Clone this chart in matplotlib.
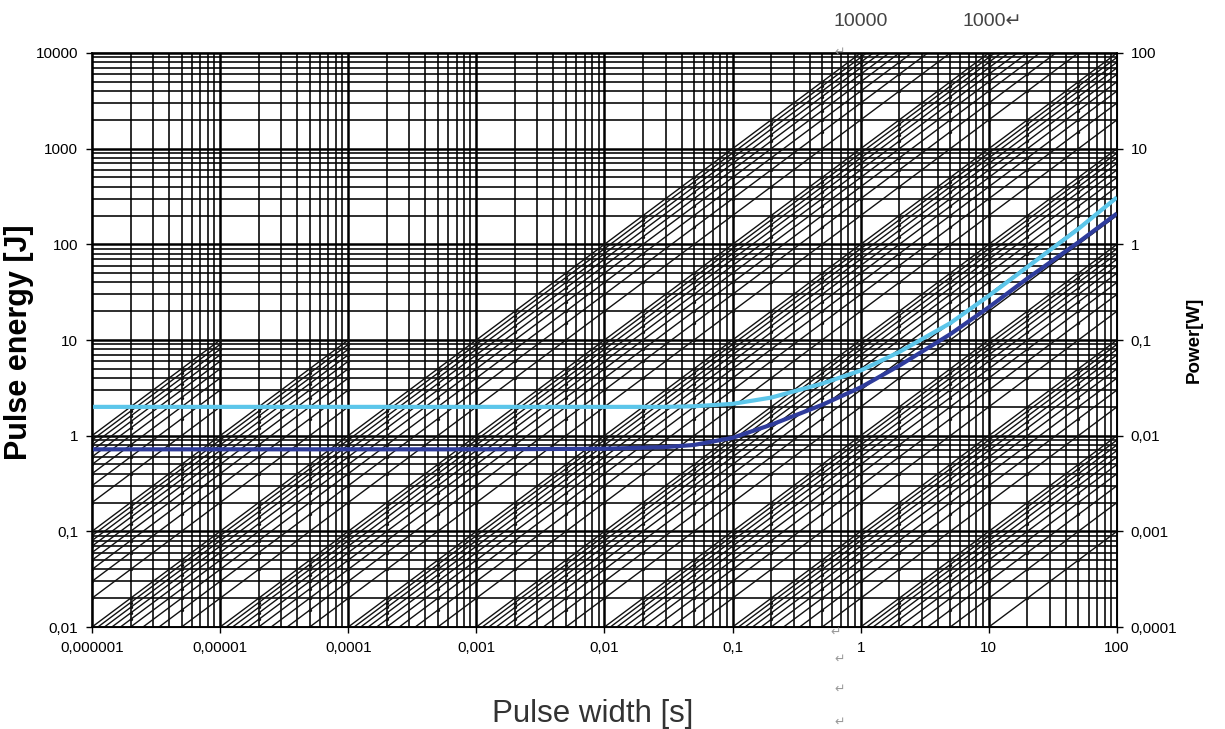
import numpy as np
import matplotlib
matplotlib.use("Agg")
import matplotlib.pyplot as plt
from matplotlib.ticker import FixedLocator, NullFormatter

plt.rcParams['font.family'] = ['Liberation Sans', 'DejaVu Sans']

# ---------------- data ----------------
x_ticks = [1e-6, 1e-5, 1e-4, 1e-3, 1e-2, 1e-1, 1, 10, 100]
x_tick_labels = ["0,000001", "0,00001", "0,0001", "0,001", "0,01", "0,1", "1", "10", "100"]
y_ticks = [0.01, 0.1, 1, 10, 100, 1000, 10000]
y_tick_labels = ["0,01", "0,1", "1", "10", "100", "1000", "10000"]
right_tick_labels = ["0,0001", "0,001", "0,01", "0,1", "1", "10", "100"]

# constant-power lines (W): mantissa x 10^exponent
power_mantissas = [1, 2, 3, 4, 5, 6, 7, 8, 9]
power_exponents = [-3, -2, -1, 0, 1, 2, 3, 4, 5, 6]
power_labels = ["10000", "1000"]

# measured curves
light_t = [1e-6, 1e-5, 1e-4, 1e-3, 1e-2, 0.03, 0.05, 0.1, 0.2, 0.5, 1, 2, 5, 10, 20, 50, 100]
light_E = [2.0, 2.0, 2.0, 2.0, 2.0, 2.0, 2.03, 2.15, 2.5, 3.5, 4.8, 7.5, 15, 29, 58, 145, 310]
dark_t = [1e-6, 1e-5, 1e-4, 1e-3, 1e-2, 0.03, 0.05, 0.1, 0.2, 0.5, 1, 2, 5, 10, 20, 50, 100]
dark_E = [0.72, 0.72, 0.72, 0.72, 0.73, 0.76, 0.8, 0.95, 1.3, 2.1, 3.2, 5.4, 11.5, 22, 44, 105, 210]

# ---------------- figure ----------------
fig = plt.figure(figsize=(12.25, 7.29), dpi=100)
ax = fig.add_axes([0.0751, 0.1399, 0.8367, 0.7874])
ax.set_xscale('log')
ax.set_yscale('log')
ax.set_xlim(1e-6, 100)
ax.set_ylim(0.01, 10000)

# grid
ax.xaxis.set_major_locator(FixedLocator(x_ticks))
ax.yaxis.set_major_locator(FixedLocator(y_ticks))
minor_x = [k * t for t in x_ticks[:-1] for k in range(2, 10)]
minor_y = [k * t for t in y_ticks[:-1] for k in range(2, 10)]
ax.xaxis.set_minor_locator(FixedLocator(minor_x))
ax.yaxis.set_minor_locator(FixedLocator(minor_y))
ax.xaxis.set_minor_formatter(NullFormatter())
ax.yaxis.set_minor_formatter(NullFormatter())
ax.grid(which='major', color='black', linewidth=1.8, zorder=1)
ax.grid(which='minor', color='black', linewidth=1.15, zorder=1)
ax.set_axisbelow(True)

# constant power lines, drawn per x-decade column
cols = x_ticks
for i in range(len(cols) - 1):
    t0, t1 = cols[i], cols[i + 1]
    cap = max(10.0, 1e4 * t1)
    tt = np.array([t0, 2 * t0, 5 * t0, t1])
    for e in power_exponents:
        for k in power_mantissas:
            P = k * 10.0 ** e
            if P * t1 > cap * 1.0001:
                continue
            if P < 1e-3 * 0.999:
                continue
            if P > 1e6 * 1.0001:
                continue
            ax.plot(tt, P * tt, color='#111111', linewidth=1.0, zorder=2,
                    marker='o', markersize=2.4, markeredgewidth=0, solid_capstyle='butt')

# curves
ax.plot(light_t, light_E, color='#5CC6EA', linewidth=3.0, zorder=5, solid_capstyle='butt')
ax.plot(dark_t, dark_E, color='#2F3C9C', linewidth=3.0, zorder=5, solid_capstyle='butt')

# ticks & labels
ax.set_xticklabels(x_tick_labels, fontsize=11)
ax.set_yticklabels(y_tick_labels, fontsize=11)
ax.tick_params(which='major', length=4, width=1, direction='out', pad=6)
ax.tick_params(which='minor', length=0)
for s in ax.spines.values():
    s.set_linewidth(1.2)

ax2 = ax.twinx()
ax2.set_yscale('log')
ax2.set_ylim(0.0001, 100)
ax2.yaxis.set_major_locator(FixedLocator([y / 100 for y in y_ticks]))
ax2.yaxis.set_minor_locator(FixedLocator([]))
ax2.set_yticklabels(right_tick_labels, fontsize=11)
ax2.tick_params(which='major', length=4, width=1, direction='out', pad=6)

ax.set_ylabel("Pulse energy [J]", fontsize=22, fontweight='bold')
ax.yaxis.set_label_coords((34 - 92) / 1025, (627 - 342) / 574)
ax.set_xlabel("Pulse width [s]", fontsize=22.5, color='#333333')
ax.xaxis.set_label_coords((593 - 92) / 1025, (627 - 699) / 574)
ax2.set_ylabel("Power[W]", fontsize=13.5, fontweight='bold')
ax2.yaxis.set_label_coords((1186 - 92) / 1025, (627 - 340) / 574)

# power labels above the plot
fig.text(861 / 1225, 1 - 21 / 729, power_labels[0], fontsize=14, color='#444444', ha='center', va='center')
fig.text(963 / 1225, 1 - 21 / 729, power_labels[1] + "\u21b5", fontsize=14, color='#444444', ha='left', va='center',
         family=['Liberation Sans', 'DejaVu Sans'])

# paragraph marks
for (px, py) in [(840, 52), (836, 632), (840, 659), (840, 689), (840, 722)]:
    fig.text(px / 1225, 1 - py / 729, "\u21b5", fontsize=9, color='#9a9a9a', ha='center', va='center',
             family=['DejaVu Sans'])

fig.savefig("out.png", dpi=100)
